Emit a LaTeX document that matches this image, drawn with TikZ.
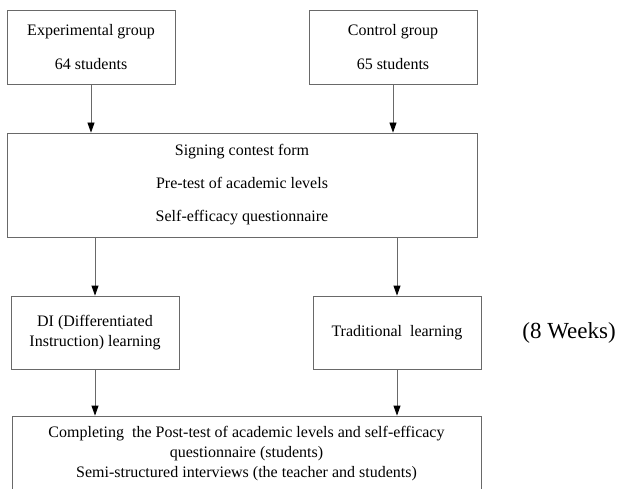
\documentclass[tikz,border=0pt]{standalone}
\usepackage{fontspec}
\setmainfont{Liberation Serif}
\usetikzlibrary{arrows.meta,positioning}
\definecolor{trait}{RGB}{105,105,105}

\begin{document}
\begin{tikzpicture}[x=1pt,y=-1pt,line width=0.8pt,
  boite/.style={draw=trait,fill=white,align=center,inner sep=0pt,font=\fontsize{16}{20}\selectfont},
  fleche/.style={draw=trait,-{Triangle[length=10pt,width=7pt,black]}}]
\useasboundingbox (0,0) rectangle (623,489);
\clip (0,0) rectangle (623,489);
% les groupes
\node[boite,minimum width=168,minimum height=74](exp)at(91,47){Experimental group\\[14pt]64 students};
\node[boite,minimum width=168,minimum height=74](ctrl)at(393,47){Control group\\[14pt]65 students};
\node[boite,minimum width=470,minimum height=104](pre)at(242,185){Signing contest form\\[13pt]Pre-test of academic levels\\[13pt]Self-efficacy questionnaire};
% les deux enseignements
\node[boite,minimum width=168,minimum height=73](di)at(95,332.5){DI (Differentiated\\Instruction) learning};
\node[boite,minimum width=168,minimum height=73](trad)at(397,332.5){Traditional\ \ learning};
\node[font=\fontsize{23}{28}\selectfont](semaines)at(569,333){(8 Weeks)};
\node[boite,minimum width=469,minimum height=76](post)at(246.5,454){Completing\ \ the Post-test of academic levels and self-efficacy\\questionnaire (students)\\Semi-structured interviews (the teacher and students)};
% les flèches
\draw[fleche](exp.south)--(exp.south|-pre.north);
\draw[fleche](ctrl.south)--(ctrl.south|-pre.north);
\draw[fleche](pre.south-|di.north)--(di.north);
\draw[fleche](pre.south-|trad.north)--(trad.north);
\draw[fleche](di.south)--(di.south|-post.north);
\draw[fleche](trad.south)--(trad.south|-post.north);
\end{tikzpicture}
\end{document}
